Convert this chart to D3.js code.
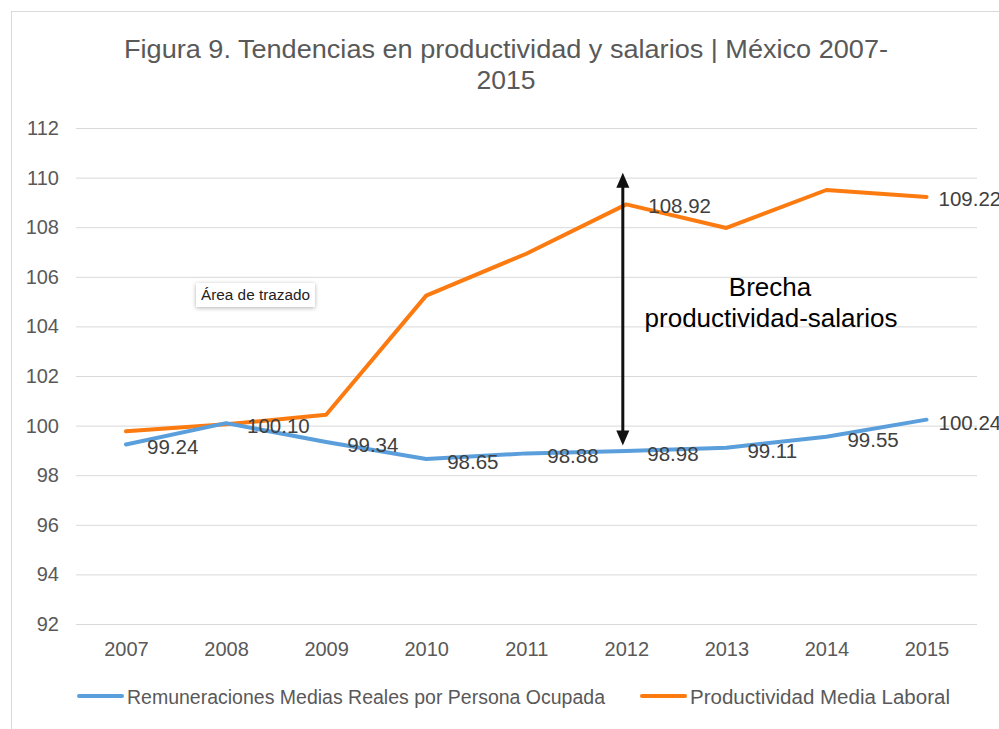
<!DOCTYPE html>
<html>
<head>
<meta charset="utf-8">
<script src="https://cdn.jsdelivr.net/npm/d3@7"></script>
<style>
  body { margin: 0; background: #fff; }
  svg { display: block; font-family: "Liberation Sans", Arial, sans-serif; }
</style>
</head>
<body>
<svg width="999" height="729"></svg>
<script>
const years = ['2007', '2008', '2009', '2010', '2011', '2012', '2013', '2014', '2015'];
const salarios = [99.24, 100.10, 99.34, 98.65, 98.88, 98.98, 99.11, 99.55, 100.24];
const productividad = [99.77, 100.05, 100.44, 105.24, 106.93, 108.92, 107.97, 109.50, 109.22];
const yTicks = [92, 94, 96, 98, 100, 102, 104, 106, 108, 110, 112];
const seriesNames = ['Remuneraciones Medias Reales por Persona Ocupada', 'Productividad Media Laboral'];
const titleLines = ['Figura 9. Tendencias en productividad y salarios | México 2007-', '2015'];

const svg = d3.select('svg');
const width = +svg.attr('width');
const height = +svg.attr('height');

const blue = '#5a9fdc';
const orange = '#fc7b10';
const textCol = '#595959';

// chart frame (cut by the picture edge)
svg.append('rect')
  .attr('x', 11.5).attr('y', 11.5)
  .attr('width', width + 20).attr('height', height + 20)
  .attr('fill', 'none').attr('stroke', '#d9d9d9');

const x = d3.scalePoint().domain(years).range([126, 926.5]);
const y = d3.scaleLinear().domain([92, 112]).range([624, 128]);

// title
svg.append('text')
  .attr('x', 506).attr('y', 58)
  .attr('text-anchor', 'middle')
  .attr('fill', textCol)
  .attr('textLength', 764)
  .attr('lengthAdjust', 'spacingAndGlyphs')
  .style('font-size', '26.5px')
  .text(titleLines[0]);
svg.append('text')
  .attr('x', 506).attr('y', 89)
  .attr('text-anchor', 'middle')
  .attr('fill', textCol)
  .style('font-size', '26.5px')
  .text(titleLines[1]);

// grid
const yAxis = d3.axisLeft(y).tickValues(yTicks).tickSize(-901).tickPadding(17);
const yAxisG = svg.append('g')
  .attr('transform', 'translate(76, 0)')
  .call(yAxis);
yAxisG.select('.domain').remove();
yAxisG.selectAll('.tick line').attr('stroke', '#d9d9d9');
yAxisG.selectAll('.tick text')
  .attr('fill', textCol)
  .style('font-size', '20px')
  .attr('font-family', '"Liberation Sans", Arial, sans-serif');

const xAxis = d3.axisBottom(x).tickSize(0).tickPadding(18);
const xAxisG = svg.append('g')
  .attr('transform', 'translate(0, 624)')
  .call(xAxis);
xAxisG.select('.domain').remove();
xAxisG.selectAll('.tick text')
  .attr('fill', textCol)
  .style('font-size', '20px')
  .attr('font-family', '"Liberation Sans", Arial, sans-serif');

// lines
const line = d3.line()
  .x((d, i) => x(years[i]))
  .y(d => y(d));

svg.append('path')
  .datum(productividad)
  .attr('d', line)
  .attr('fill', 'none')
  .attr('stroke', orange)
  .attr('stroke-width', 4)
  .attr('stroke-linejoin', 'round')
  .attr('stroke-linecap', 'round');

svg.append('path')
  .datum(salarios)
  .attr('d', line)
  .attr('fill', 'none')
  .attr('stroke', blue)
  .attr('stroke-width', 4)
  .attr('stroke-linejoin', 'round')
  .attr('stroke-linecap', 'round');

// data labels
const last = years.length - 1;
svg.selectAll('.lbl-sal').data(salarios).enter().append('text')
  .attr('class', 'lbl-sal')
  .attr('x', (d, i) => x(years[i]) + (i === last ? 12 : 21))
  .attr('y', d => y(d) + 10)
  .attr('fill', '#404040')
  .style('font-size', '20.5px')
  .text(d => d.toFixed(2));

const prodLabels = [5, 8];
svg.selectAll('.lbl-prod').data(prodLabels).enter().append('text')
  .attr('class', 'lbl-prod')
  .attr('x', i => x(years[i]) + (i === last ? 12 : 22))
  .attr('y', i => y(productividad[i]) + 9)
  .attr('fill', '#404040')
  .style('font-size', '20.5px')
  .text(i => productividad[i].toFixed(2));

// gap arrow
const ax = x('2012') - 3.5;
const yTop = y(110.2);
const yBot = y(99.2);
svg.append('line')
  .attr('x1', ax).attr('x2', ax)
  .attr('y1', yTop + 12).attr('y2', yBot - 12)
  .attr('stroke', '#111').attr('stroke-width', 3);
svg.append('path')
  .attr('d', `M${ax},${yTop} L${ax - 6.5},${yTop + 15} L${ax + 6.5},${yTop + 15} Z`)
  .attr('fill', '#111');
svg.append('path')
  .attr('d', `M${ax},${yBot} L${ax - 6.5},${yBot - 15} L${ax + 6.5},${yBot - 15} Z`)
  .attr('fill', '#111');

svg.append('text')
  .attr('x', 770).attr('y', 296)
  .attr('text-anchor', 'middle')
  .attr('fill', '#000')
  .style('font-size', '26px')
  .text('Brecha');
svg.append('text')
  .attr('x', 771).attr('y', 327)
  .attr('text-anchor', 'middle')
  .attr('fill', '#000')
  .style('font-size', '26px')
  .text('productividad-salarios');

// hover tooltip left in the screenshot
const defs = svg.append('defs');
const f = defs.append('filter').attr('id', 'shadow')
  .attr('x', '-20%').attr('y', '-40%').attr('width', '140%').attr('height', '180%');
f.append('feDropShadow')
  .attr('dx', 0).attr('dy', 1).attr('stdDeviation', 2)
  .attr('flood-color', '#000').attr('flood-opacity', 0.3);
svg.append('rect')
  .attr('x', 196).attr('y', 283)
  .attr('width', 119).attr('height', 24)
  .attr('fill', '#fff')
  .attr('filter', 'url(#shadow)');
svg.append('text')
  .attr('x', 201).attr('y', 300)
  .attr('fill', '#222')
  .attr('textLength', 109)
  .attr('lengthAdjust', 'spacingAndGlyphs')
  .style('font-size', '14px')
  .text('Área de trazado');

// legend
const legend = svg.append('g').attr('transform', 'translate(0, 696)');
const legendItems = [
  { name: seriesNames[0], color: blue, x0: 77, w: 478 },
  { name: seriesNames[1], color: orange, x0: 640, w: 260 }
];
legendItems.forEach(it => {
  legend.append('line')
    .attr('x1', it.x0 + 2).attr('x2', it.x0 + 45)
    .attr('y1', 0).attr('y2', 0)
    .attr('stroke', it.color).attr('stroke-width', 4)
    .attr('stroke-linecap', 'round');
  legend.append('text')
    .attr('x', it.x0 + 50).attr('y', 8)
    .attr('fill', textCol)
    .attr('textLength', it.w)
    .attr('lengthAdjust', 'spacingAndGlyphs')
    .style('font-size', '20px')
    .text(it.name);
});
</script>
</body>
</html>
